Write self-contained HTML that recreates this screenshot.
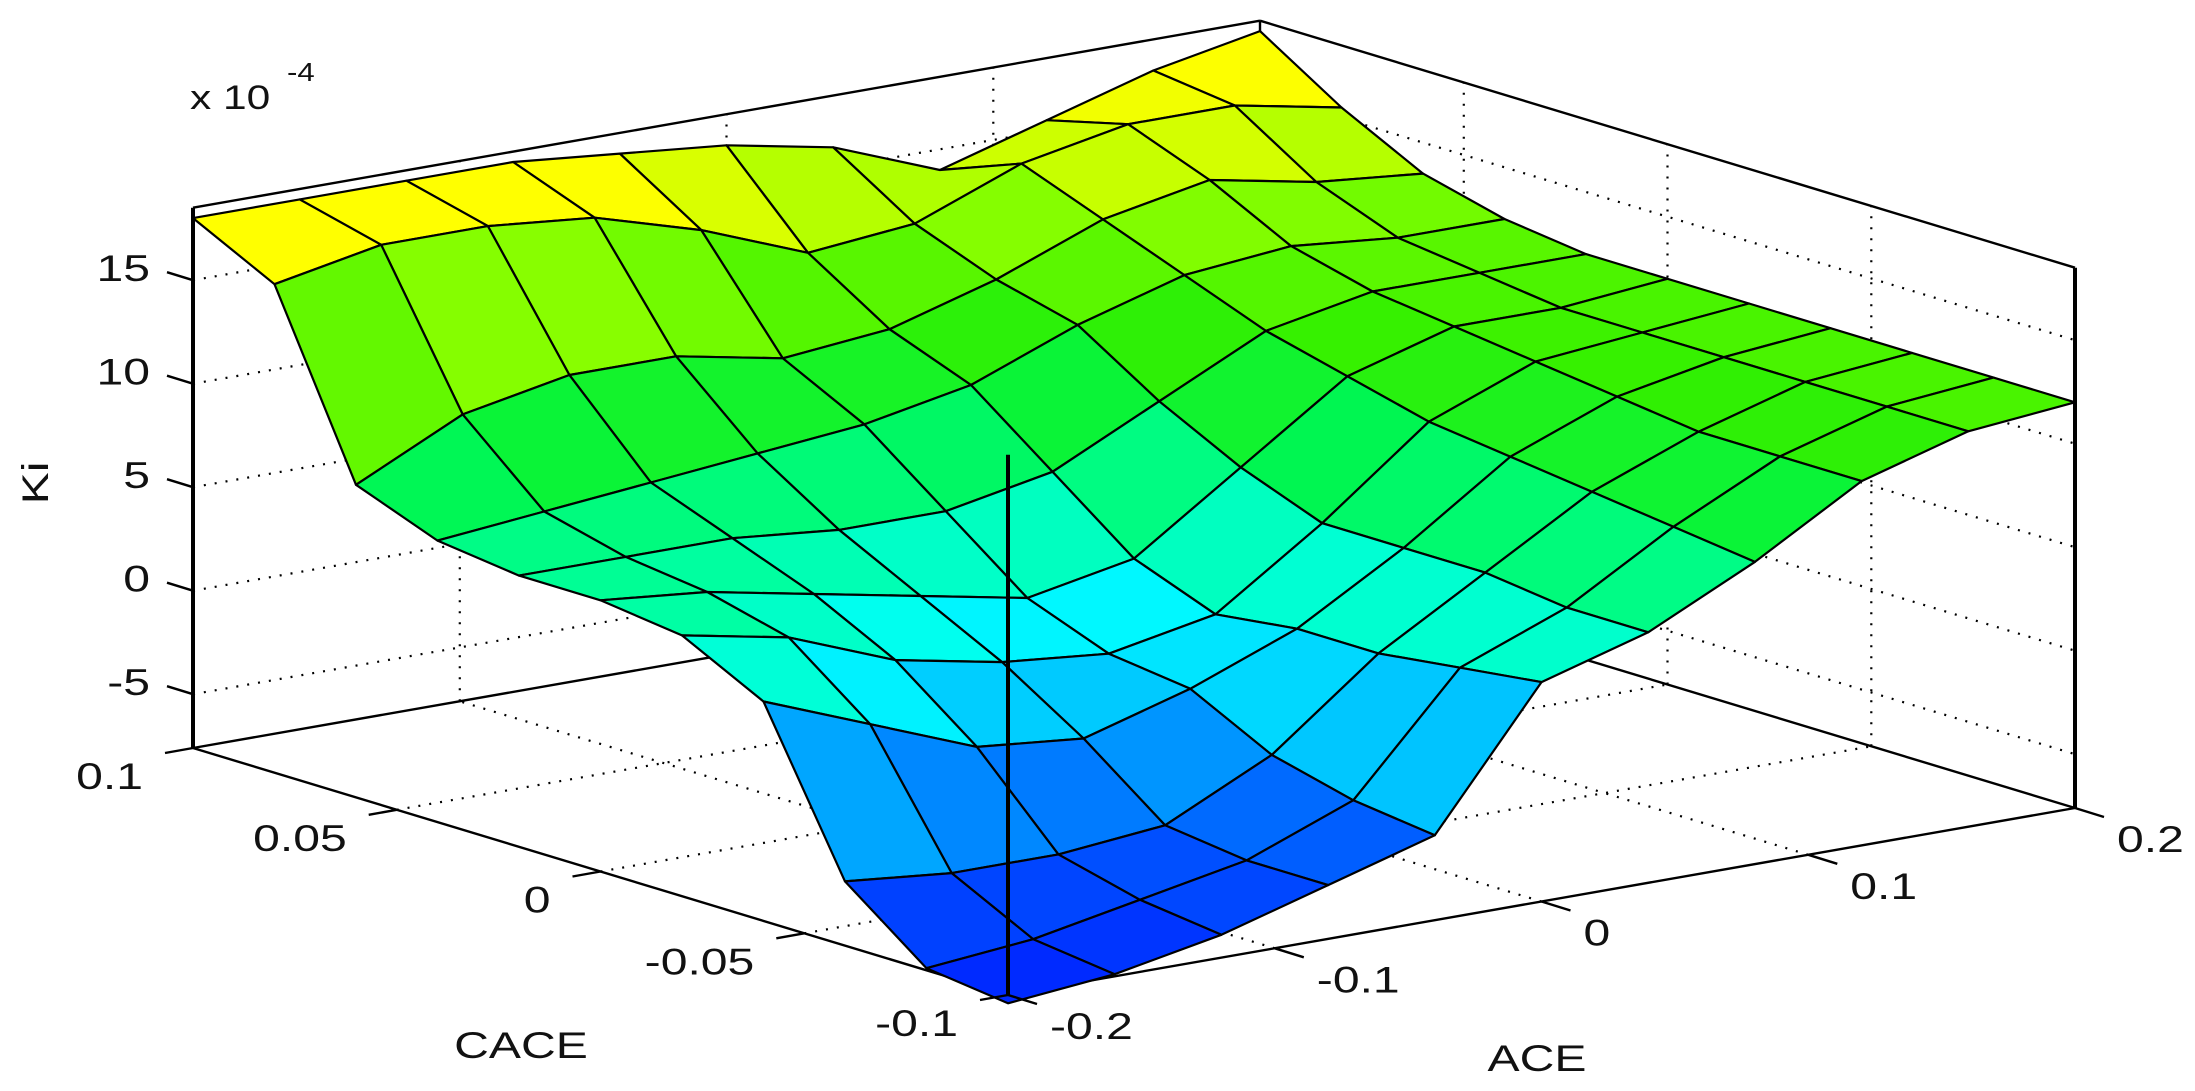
<!DOCTYPE html>
<html><head><meta charset="utf-8">
<style>
html,body{margin:0;padding:0;background:#fff;}
svg{display:block;}
text{font-family:"Liberation Sans",Arial,sans-serif;fill:#111;}
</style></head>
<body>
<svg id="chart" width="2195" height="1091" viewBox="0 0 2195 1091" xmlns="http://www.w3.org/2000/svg">
<g id="grid"></g>
<g id="box"></g>
<g id="surf"></g>
<g id="front"></g>
<g id="labels"></g>
</svg>
<script>
// ---- data ----
const aceGrid = [-0.2,-0.16,-0.12,-0.08,-0.04,0,0.04,0.08,0.12,0.16,0.2];
const caceGrid = [-0.1,-0.08,-0.06,-0.04,-0.02,0,0.02,0.04,0.06,0.08,0.1];
// kiValues[j][i] : row j = CACE index, column i = ACE index (units of 1e-4)
const kiRow0  = [-8,-7.5,-6.5,-5,-3.5,3,4.5,7,10,11.5,12];
const kiRow1  = [-7.5,-7,-6,-5,-3,2.5,4.5,7.5,10,11.5,12];
const kiRow2  = [-4.5,-5,-5,-4.5,-2,2,5,8,10,11.5,12];
const kiRow3  = [3,1,-1,-1.5,0,2,5,8.5,10.5,11.5,12];
const kiRow4  = [5,4,2,1,0.5,1.5,5,9,11,11.5,12];
const kiRow5  = [5.5,5,4,3,2,3,6.5,10,11.5,11.5,12];
const kiRow6  = [5.5,5.5,5.5,5,5,6,8.5,11,12,12,12];
const kiRow7  = [6,6.5,7,7.5,8,9,11,12.5,13,12.5,12.5];
const kiRow8  = [7.5,10,11,11,10,10.5,12,14,15,14,13.5];
const kiRow9  = [16,17,17,16.5,15,13,13.5,15.5,16.5,16.5,15.5];
const kiRow10 = [18,18,18,18,17.5,17,16,14,15.5,17,18];
const kiValues = [kiRow0,kiRow1,kiRow2,kiRow3,kiRow4,kiRow5,kiRow6,kiRow7,kiRow8,kiRow9,kiRow10];
const aceTicks = [-0.2,-0.1,0,0.1,0.2];
const aceTickLabels = ["-0.2","-0.1","0","0.1","0.2"];
const caceTicks = [-0.1,-0.05,0,0.05,0.1];
const caceTickLabels = ["-0.1","-0.05","0","0.05","0.1"];
const zTicks = [-5,0,5,10,15];
const zTickLabels = ["-5","0","5","10","15"];

// ---- axes ----
const ZMIN=-7.6, ZMAX=18.5, ZS=20.7;
const F={x:1008,y:995}, UV={x:1067,y:-187}, VV={x:-815,y:-247};
function uOf(a){return (a+0.2)/0.4;}
function vOf(c){return (c+0.1)/0.2;}
function P(u,v,z){return [F.x+UV.x*u+VV.x*v, F.y+UV.y*u+VV.y*v-ZS*(z-ZMIN)];}
const NS="http://www.w3.org/2000/svg";
function mk(tag,parent,attrs){const e=document.createElementNS(NS,tag);for(const k in attrs)e.setAttribute(k,attrs[k]);parent.appendChild(e);return e;}
function line(parent,a,b,extra){return mk('line',parent,Object.assign({x1:a[0].toFixed(1),y1:a[1].toFixed(1),x2:b[0].toFixed(1),y2:b[1].toFixed(1),stroke:'#000','stroke-width':2.2},extra||{}));}

// colormap
const cStops=[[-8,[0,34,255]],[-4,[0,96,255]],[-1,[0,176,255]],[2,[0,255,255]],[5,[0,255,160]],[8,[0,245,70]],[11,[50,240,0]],[14,[140,255,0]],[15.8,[225,255,0]],[16.8,[255,255,0]]];
function color(z){
  if(z<=cStops[0][0])return 'rgb('+cStops[0][1].join(',')+')';
  for(let k=1;k<cStops.length;k++){if(z<=cStops[k][0]){const a=cStops[k-1],b=cStops[k];const t=(z-a[0])/(b[0]-a[0]);return 'rgb('+a[1].map((c,i)=>Math.round(c+(b[1][i]-c)*t)).join(',')+')';}}
  return 'rgb(255,255,0)';
}

// grid lines
const G=document.getElementById('grid');
const dot={'stroke-dasharray':'2,9','stroke-width':2.2};
zTicks.forEach(z=>{
  const gl1=line(G,P(0,1,z),P(1,1,z),dot);
  
  
  const gl2=line(G,P(1,1,z),P(1,0,z),dot);
  
  
});
aceTicks.slice(1,-1).forEach(a=>{
  const u=uOf(a);
  const g1=line(G,P(u,1,ZMIN),P(u,1,ZMAX),dot);
  
  
  const g2=line(G,P(u,0,ZMIN),P(u,1,ZMIN),dot);
  
  
});
caceTicks.slice(1,-1).forEach(c=>{
  const v=vOf(c);
  const g1=line(G,P(1,v,ZMIN),P(1,v,ZMAX),dot);
  
  
  const g2=line(G,P(0,v,ZMIN),P(1,v,ZMIN),dot);
  
  
});

// box
const B=document.getElementById('box');
const boxEdges=[[[0,1,ZMIN],[1,1,ZMIN]],[[1,1,ZMIN],[1,0,ZMIN]],[[0,0,ZMIN],[0,1,ZMIN]],[[0,0,ZMIN],[1,0,ZMIN]],
 [[0,1,ZMIN],[0,1,ZMAX]],[[1,0,ZMIN],[1,0,ZMAX]],[[1,1,ZMIN],[1,1,ZMAX]],[[0,1,ZMAX],[1,1,ZMAX]],[[1,1,ZMAX],[1,0,ZMAX]]];
boxEdges.forEach((e,k)=>{
  const l=line(B,P(...e[0]),P(...e[1]),{'stroke-width':(k==4||k==5)?4:2.4});
  
  
});

// surface faces
const S=document.getElementById('surf');
const faces=[];
for(let j=0;j<caceGrid.length-1;j++){
  for(let i=0;i<aceGrid.length-1;i++){
    const u0=uOf(aceGrid[i]),u1=uOf(aceGrid[i+1]),v0=vOf(caceGrid[j]),v1=vOf(caceGrid[j+1]);
    const z00=kiValues[j][i],z10=kiValues[j][i+1],z11=kiValues[j+1][i+1],z01=kiValues[j+1][i];
    const pts=[P(u0,v0,z00),P(u1,v0,z10),P(u1,v1,z11),P(u0,v1,z01)];
    const depth=187*(u0+u1)/2+247*(v0+v1)/2;
    faces.push({pts,depth,z:(z00+z10+z11+z01)/4,i,j});
  }
}
faces.sort((a,b)=>b.depth-a.depth);
faces.forEach(f=>{
  const p=mk('polygon',S,{points:f.pts.map(q=>q[0].toFixed(1)+','+q[1].toFixed(1)).join(' '),fill:color(f.z),stroke:'#000','stroke-width':2.2,'stroke-linejoin':'round'});
  
  
});

// front vertical edge drawn over surface
const FR=document.getElementById('front');
const fv=line(FR,P(0,0,ZMIN),P(0,0,ZMAX),{'stroke-width':4});



// labels & ticks
const L=document.getElementById('labels');
function txt(x,y,s,anchor,size,sx){
  const g=mk('g',L,{transform:'translate('+x.toFixed(1)+','+y.toFixed(1)+') scale('+(sx||1.3)+',1)'});
  const t=mk('text',g,{x:0,y:0,'text-anchor':anchor,'font-size':size||37});
  t.textContent=s;return t;
}
zTicks.forEach((z,k)=>{
  const p=P(0,1,z);
  const tk=line(L,p,[p[0]-26,p[1]-8],{'stroke-width':2.4});
  
  
  const t=txt(150,p[1]-12+13,zTickLabels[k],'end');
  
  
});
caceTicks.forEach((c,k)=>{
  const p=P(0,vOf(c),ZMIN);
  const tk=line(L,p,[p[0]-28,p[1]+5],{'stroke-width':2.4});
  
  
  const t=txt(p[0]-50,p[1]+28+13,caceTickLabels[k],'end');
  
  
});
aceTicks.forEach((a,k)=>{
  const p=P(uOf(a),0,ZMIN);
  const tk=line(L,p,[p[0]+29,p[1]+9],{'stroke-width':2.4});
  
  
  const t=txt(p[0]+42,p[1]+31+13,aceTickLabels[k],'start');
  
  
});
const ct=txt(521,1045+13,'CACE','middle');


const at=txt(1537,1058+13,'ACE','middle');


const ex=txt(190,97+12,'x 10','start',34,1.25);


const ep=txt(287,72+9,'-4','start',26,1.2);


const kg=mk('g',L,{transform:'translate(48,483) rotate(-90) scale(1.3,1)'});
const kt=mk('text',kg,{x:0,y:0,'text-anchor':'middle','font-size':37});
kt.textContent='Ki';


</script>
</body></html>
